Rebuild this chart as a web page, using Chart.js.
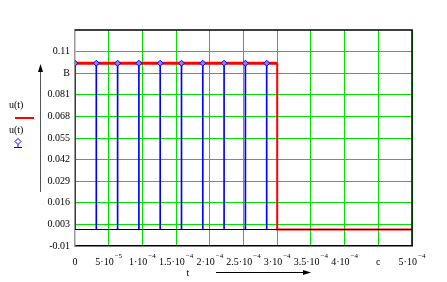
<!DOCTYPE html>
<html>
<head>
<meta charset="utf-8">
<script src="https://cdn.jsdelivr.net/npm/chart.js@4/dist/chart.umd.min.js"></script>
<style>
  html, body { margin: 0; padding: 0; background: #fff; }
  #wrap { width: 447px; height: 282px; }
</style>
</head>
<body>
<div id="wrap"><canvas id="c" width="447" height="282"></canvas></div>
<script>
// u(t) : прямоугольный импульс
var uTimes = [0, 0.0003, 0.0003, 0.0005];
var uValues = [0.1, 0.1, 0, 0];

// отсчёты u(t) (дискретизация)
var sampleTimes = [0, 0.0000316, 0.0000632, 0.0000948, 0.0001264, 0.000158, 0.0001896, 0.0002212, 0.0002528, 0.0002844];
var sampleValues = [0.1, 0.1, 0.1, 0.1, 0.1, 0.1, 0.1, 0.1, 0.1, 0.1];

// оси
var xTickValues = [0, 0.00005, 0.0001, 0.00015, 0.0002, 0.00025, 0.0003, 0.00035, 0.0004, 0.00045, 0.0005];
var xTickBase = ['0', '5·10', '1·10', '1.5·10', '2·10', '2.5·10', '3·10', '3.5·10', '4·10', 'с', '5·10'];
var xTickExp = ['', '−5', '−4', '−4', '−4', '−4', '−4', '−4', '−4', '', '−4'];
var yTickValues = [-0.01, 0.003, 0.016, 0.029, 0.042, 0.055, 0.068, 0.081, 0.094, 0.107];
var yTickLabels = ['-0.01', '0.003', '0.016', '0.029', '0.042', '0.055', '0.068', '0.081', 'В', '0.11'];

var GRID = 'rgb(0,225,0)';
var FONT = '"Liberation Serif", "Times New Roman", serif';

var pts = function(xs, ys) {
  return xs.map(function(x, i) { return {x: x, y: ys[i]}; });
};

// рамка, нулевая линия и подписи слева / снизу
var mathcadFrame = {
  id: 'mathcadFrame',
  afterDatasetsDraw: function(chart) {
    var ctx = chart.ctx, a = chart.chartArea, y0 = chart.scales.y.getPixelForValue(0);
    ctx.save();
    ctx.strokeStyle = '#000';
    ctx.lineWidth = 1;
    ctx.beginPath();
    ctx.moveTo(a.left, Math.round(y0) + 0.5);
    ctx.lineTo(a.right, Math.round(y0) + 0.5);
    ctx.stroke();
    ctx.restore();
  },
  afterDraw: function(chart) {
    var ctx = chart.ctx, a = chart.chartArea, xs = chart.scales.x;
    ctx.save();
    ctx.strokeStyle = '#000';
    ctx.lineWidth = 1.5;
    ctx.beginPath();
    ctx.moveTo(a.left, a.top);
    ctx.lineTo(a.right, a.top);
    ctx.lineTo(a.right, a.bottom);
    ctx.stroke();

    // подписи оси x со степенями
    ctx.fillStyle = '#000';
    ctx.textBaseline = 'alphabetic';
    ctx.textAlign = 'left';
    xTickValues.forEach(function(v, i) {
      var px = xs.getPixelForValue(v);
      ctx.font = '10px ' + FONT;
      var wb = ctx.measureText(xTickBase[i]).width;
      ctx.font = '7px ' + FONT;
      var we = xTickExp[i] ? ctx.measureText(xTickExp[i]).width + 1 : 0;
      var x0 = px - (wb + we) / 2;
      ctx.font = '10px ' + FONT;
      ctx.fillText(xTickBase[i], x0, 265);
      if (xTickExp[i]) {
        ctx.font = '7px ' + FONT;
        ctx.fillText(xTickExp[i], x0 + wb + 1, 258);
      }
    });

    ctx.font = '10px ' + FONT;
    ctx.textBaseline = 'middle';
    // легенда слева
    ctx.fillText('u(t)', 9, 105);
    ctx.strokeStyle = 'red';
    ctx.lineWidth = 2;
    ctx.beginPath();
    ctx.moveTo(15, 118);
    ctx.lineTo(34, 118);
    ctx.stroke();
    ctx.fillText('u(t)', 9, 130);
    ctx.strokeStyle = 'blue';
    ctx.lineWidth = 1;
    ctx.beginPath();
    ctx.moveTo(18, 138.5); ctx.lineTo(21, 141.5); ctx.lineTo(18, 144.5); ctx.lineTo(15, 141.5); ctx.closePath();
    ctx.moveTo(18, 144.5); ctx.lineTo(18, 147);
    ctx.moveTo(14, 147.5); ctx.lineTo(22, 147.5);
    ctx.stroke();

    // вертикальная стрелка
    ctx.strokeStyle = '#555';
    ctx.beginPath();
    ctx.moveTo(40.5, 192); ctx.lineTo(40.5, 67);
    ctx.stroke();
    ctx.fillStyle = '#000';
    ctx.beginPath();
    ctx.moveTo(40.5, 64); ctx.lineTo(38, 72); ctx.lineTo(43, 72); ctx.closePath();
    ctx.fill();

    // подпись оси t
    ctx.textAlign = 'center';
    ctx.fillText('t', 188, 273);
    ctx.strokeStyle = '#000';
    ctx.beginPath();
    ctx.moveTo(216, 272.5); ctx.lineTo(306, 272.5);
    ctx.stroke();
    ctx.beginPath();
    ctx.moveTo(311, 272.5); ctx.lineTo(303, 270); ctx.lineTo(303, 275); ctx.closePath();
    ctx.fill();
    ctx.restore();
  }
};

var chart = new Chart(document.getElementById('c'), {
  data: {
    datasets: [
      {
        type: 'bar',
        label: 'stems',
        data: pts(sampleTimes, sampleValues),
        backgroundColor: 'blue',
        barThickness: 1,
        order: 3
      },
      {
        type: 'line',
        label: 'u(t)',
        data: pts(uTimes, uValues),
        borderColor: 'red',
        borderWidth: 3,
        segment: {
          borderWidth: function(ctx) { return ctx.p0DataIndex === 0 ? 3 : 2; }
        },
        pointRadius: 0,
        tension: 0,
        order: 2
      },
      {
        type: 'scatter',
        label: 'samples',
        data: pts(sampleTimes, sampleValues),
        pointStyle: 'rectRot',
        pointRadius: 3,
        borderColor: 'blue',
        borderWidth: 1,
        backgroundColor: 'rgb(130,130,255)',
        order: 1
      }
    ]
  },
  options: {
    responsive: false,
    animation: false,
    events: [],
    layout: { padding: { left: 0, top: 30, right: 35, bottom: 0 } },
    plugins: { legend: { display: false }, tooltip: { enabled: false } },
    scales: {
      x: {
        type: 'linear',
        min: 0,
        max: 0.0005,
        offset: false,
        afterFit: function(scale) { scale.height = 36; },
        afterBuildTicks: function(scale) {
          scale.ticks = xTickValues.map(function(v) { return {value: v}; });
        },
        grid: {
          offset: false,
          color: function(c) { return c.index === 0 ? 'rgba(0,0,0,0)' : GRID; },
          lineWidth: 1,
          drawTicks: false
        },
        border: { color: '#000', width: 1.5 },
        ticks: { display: false }
      },
      y: {
        type: 'linear',
        min: -0.01,
        max: 0.12,
        afterFit: function(scale) { scale.width = 75; },
        afterBuildTicks: function(scale) {
          scale.ticks = yTickValues.map(function(v) { return {value: v}; });
        },
        grid: {
          color: function(c) { return c.index === 0 ? 'rgba(0,0,0,0)' : GRID; },
          lineWidth: 1,
          drawTicks: false
        },
        border: { color: '#999', width: 1.5 },
        ticks: {
          autoSkip: false,
          padding: 5,
          color: '#000',
          font: { family: FONT, size: 10 },
          callback: function(v, i) { return yTickLabels[i]; }
        }
      }
    }
  },
  plugins: [mathcadFrame]
});
</script>
</body>
</html>
